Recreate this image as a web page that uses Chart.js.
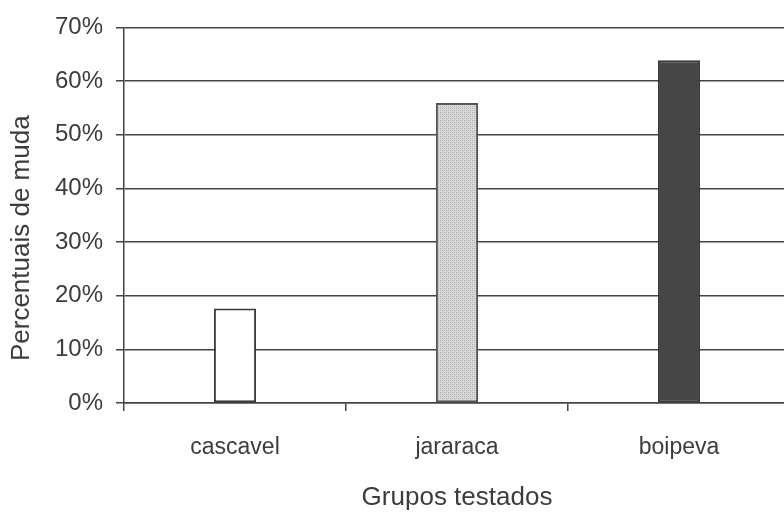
<!DOCTYPE html>
<html>
<head>
<meta charset="utf-8">
<title>Percentuais de muda</title>
<script src="https://cdn.jsdelivr.net/npm/chart.js@4.4.1/dist/chart.umd.min.js"></script>
<style>
    html, body { margin: 0; padding: 0; background: #fff; overflow: hidden; }
    #wrap { width: 800px; height: 513px; }
</style>
</head>
<body>
<div id="wrap"><canvas id="mudaChart"></canvas></div>
<script>
// Data
const grupos = ['cascavel', 'jararaca', 'boipeva'];
const percentuais = [17.6, 55.9, 63.9];
const yTicks = [0, 10, 20, 30, 40, 50, 60, 70];
const yTitulo = 'Percentuais de muda';
const xTitulo = 'Grupos testados';

const TEXT = '#3c3c3c';
const LINE = '#454545';
const FONT = '"Liberation Sans", Arial, sans-serif';

// Stippled light grey fill for the middle bar
function makeStipple() {
    const c = document.createElement('canvas');
    c.width = 4;
    c.height = 4;
    const g = c.getContext('2d');
    g.fillStyle = '#d9d9d9';
    g.fillRect(0, 0, 4, 4);
    g.fillStyle = '#a8a8a8';
    g.fillRect(0, 0, 1, 1);
    g.fillRect(2, 2, 1, 1);
    g.fillStyle = '#bdbdbd';
    g.fillRect(2, 0, 1, 1);
    g.fillRect(0, 2, 1, 1);
    return g.createPattern(c, 'repeat');
}

// Vertical axis title, sitting a little below the middle of the plot
const yTitlePlugin = {
    id: 'yTitle',
    afterDraw(chart) {
        const { ctx, chartArea } = chart;
        const cy = (chartArea.top + chartArea.bottom) / 2 + 23;
        ctx.save();
        ctx.translate(22, cy);
        ctx.rotate(-Math.PI / 2);
        ctx.font = '26px ' + FONT;
        ctx.fillStyle = TEXT;
        ctx.textAlign = 'center';
        ctx.textBaseline = 'middle';
        ctx.fillText(yTitulo, 0, 0);
        ctx.restore();
    }
};

document.addEventListener('DOMContentLoaded', () => {
    const ctx = document.getElementById('mudaChart').getContext('2d');
    new Chart(ctx, {
        type: 'bar',
        data: {
            labels: grupos,
            datasets: [{
                data: percentuais,
                backgroundColor: ['#ffffff', makeStipple(), '#464646'],
                borderColor: ['#3a3a3a', '#555555', '#3a3a3a'],
                borderWidth: 2,
                borderSkipped: false,
                barPercentage: 0.19,
                categoryPercentage: 1
            }]
        },
        options: {
            responsive: true,
            maintainAspectRatio: false,
            animation: false,
            layout: { padding: { top: 26, right: 10, left: 0, bottom: 0 } },
            plugins: {
                legend: { display: false },
                tooltip: { enabled: false }
            },
            scales: {
                x: {
                    grid: {
                        offset: true,
                        drawOnChartArea: false,
                        drawTicks: true,
                        tickLength: 8,
                        color: LINE,
                        lineWidth: 1.5
                    },
                    border: { display: true, color: LINE, width: 1.5 },
                    ticks: {
                        color: TEXT,
                        padding: 23,
                        font: { family: FONT, size: 23 }
                    },
                    title: {
                        display: true,
                        text: xTitulo,
                        color: TEXT,
                        padding: { top: 10, bottom: 0 },
                        font: { family: FONT, size: 26 }
                    },
                    afterFit: (scale) => { scale.height = 110; }
                },
                y: {
                    min: 0,
                    max: 70,
                    afterBuildTicks: (scale) => {
                        scale.ticks = yTicks.map(v => ({ value: v }));
                    },
                    grid: {
                        color: LINE,
                        lineWidth: 1.5,
                        tickLength: 8
                    },
                    border: { display: true, color: LINE, width: 1.5 },
                    ticks: {
                        color: TEXT,
                        padding: 13,
                        font: { family: FONT, size: 24 },
                        callback: (v) => v + '%'
                    },
                    afterFit: (scale) => { scale.width = 124; }
                }
            }
        },
        plugins: [yTitlePlugin]
    });
});
</script>
</body>
</html>
